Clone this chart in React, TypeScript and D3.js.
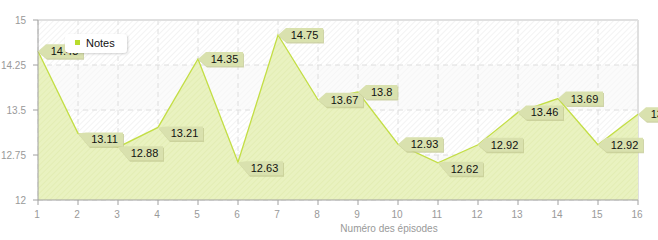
import React from "react";
import * as d3 from "d3";

const episodes = [1, 2, 3, 4, 5, 6, 7, 8, 9, 10, 11, 12, 13, 14, 15, 16];
const notes = [14.48, 13.11, 12.88, 13.21, 14.35, 12.63, 14.75, 13.67, 13.8, 12.93, 12.62, 12.92, 13.46, 13.69, 12.92, 13.43];
const yTicks = [12, 12.75, 13.5, 14.25, 15];
const yTickLabels = ["12", "12.75", "13.5", "14.25", "15"];
const lowLabels = new Set([1, 2, 3, 5, 10]);
const seriesName = "Notes";
const axisTitle = "Numéro des épisodes";

const W = 658, H = 240;
const M = { left: 38, right: 20, top: 20, bottom: 40 };

export default function App() {
  const x = d3.scaleLinear().domain([1, 16]).range([M.left, W - M.right]);
  const y = d3.scaleLinear().domain([12, 15]).range([H - M.bottom, M.top]);
  const pts: [number, number][] = episodes.map((e, i) => [e, notes[i]]);
  const area = d3.area<[number, number]>().x(d => x(d[0])).y0(y(12)).y1(d => y(d[1]));
  const line = d3.line<[number, number]>().x(d => x(d[0])).y(d => y(d[1]));
  const x0 = x(1), x1 = x(16), yTop = y(15), yBot = y(12);
  const font = "'Liberation Sans', Arial, sans-serif";
  const bands = [[12, 12.75], [13.5, 14.25]];

  return (
    <svg width={W} height={H} style={{ position: "absolute", left: 0, top: 0 }}>
      <defs>
        <pattern id="hatch" width="4" height="4" patternUnits="userSpaceOnUse" patternTransform="rotate(45)">
          <rect width="4" height="4" fill="#ffffff" />
          <line x1="0" y1="0" x2="0" y2="4" stroke="#ececec" strokeWidth="1.2" />
        </pattern>
        <pattern id="hatchLight" width="4" height="4" patternUnits="userSpaceOnUse" patternTransform="rotate(45)">
          <rect width="4" height="4" fill="#fbfbfb" />
          <line x1="0" y1="0" x2="0" y2="4" stroke="#f3f3f3" strokeWidth="1.2" />
        </pattern>
        <pattern id="hatchGreen" width="4" height="4" patternUnits="userSpaceOnUse" patternTransform="rotate(45)">
          <rect width="4" height="4" fill="#e9f2c0" />
          <line x1="0" y1="0" x2="0" y2="4" stroke="#e0ebac" strokeWidth="1.2" />
        </pattern>
        <filter id="shadow" x="-20%" y="-20%" width="150%" height="160%">
          <feDropShadow dx="1" dy="1" stdDeviation="1.2" floodColor="#000" floodOpacity="0.18" />
        </filter>
      </defs>
      <rect x={x0} y={yTop} width={x1 - x0} height={yBot - yTop} fill="url(#hatch)" />
      {bands.map((b, i) => (
        <rect key={i} x={x0} y={y(b[1])} width={x1 - x0} height={y(b[0]) - y(b[1])} fill="url(#hatchLight)" />
      ))}
      {episodes.map(e => (
        <line key={"vg" + e} x1={x(e)} x2={x(e)} y1={yTop} y2={yBot} stroke="#dedede" strokeDasharray="5,4" />
      ))}
      {yTicks.map(t => (
        <line key={"hg" + t} x1={x0} x2={x1} y1={y(t)} y2={y(t)} stroke="#dedede" strokeDasharray="5,4" />
      ))}
      <line x1={x0} x2={x1} y1={yTop} y2={yTop} stroke="#e0e0e0" strokeWidth={2} />
      <line x1={x1} x2={x1} y1={yTop} y2={yBot} stroke="#e0e0e0" strokeWidth={2} />
      <path d={area(pts) || ""} fill="url(#hatchGreen)" />
      <path d={line(pts) || ""} fill="none" stroke="#c3de45" strokeWidth={1.3} />
      <line x1={x0} x2={x0} y1={yTop} y2={yBot} stroke="#a0a0a0" />
      <line x1={x0} x2={x1} y1={yBot} y2={yBot} stroke="#a0a0a0" />
      {yTicks.map((t, i) => (
        <g key={"yt" + t}>
          <line x1={x0 - 5} x2={x0} y1={y(t)} y2={y(t)} stroke="#a0a0a0" />
          <text x={x0 - 12} y={y(t)} dy="0.35em" textAnchor="end" fontSize={10} fill="#999" fontFamily={font}>{yTickLabels[i]}</text>
        </g>
      ))}
      {episodes.map(e => (
        <g key={"xt" + e}>
          <line x1={x(e)} x2={x(e)} y1={yBot} y2={yBot + 5} stroke="#a0a0a0" />
          <text x={x(e) - 1} y={yBot + 14} dy="0.35em" textAnchor="middle" fontSize={10} fill="#999" fontFamily={font}>{e}</text>
        </g>
      ))}
      <text x={389} y={228} dy="0.35em" textAnchor="middle" fontSize={10} fill="#999" fontFamily={font}>{axisTitle}</text>
      {pts.map((p, i) => {
        const px = x(p[0]), py = y(p[1]);
        const label = String(p[1]);
        const w = label.length * 5.6 + 9;
        const h = 14;
        const bx = px + 8;
        const by = lowLabels.has(i) ? py - 1 : py - 7;
        const path = lowLabels.has(i)
          ? `M${px},${py} L${bx},${by} L${bx + w},${by} L${bx + w},${by + h} L${bx + 3},${by + h} Z`
          : `M${px},${py} L${bx},${by} L${bx + w},${by} L${bx + w},${by + h} L${bx},${by + h} Z`;
        return (
          <g key={"lb" + i}>
            <path d={path} fill="#c4cb94" transform="translate(1,1.5)" opacity={0.8} />
            <path d={path} fill="#d9e1ae" />
            <text x={bx + w / 2} y={by + h / 2} dy="0.36em" textAnchor="middle" fontSize={11} fill="#111" fontFamily={font}>{label}</text>
          </g>
        );
      })}
      <g filter="url(#shadow)">
        <rect x={65} y={34} width={62} height={19} rx={4} fill="#fff" />
      </g>
      <rect x={75} y={40} width={5} height={5} fill="#b8dc2c" />
      <text x={86} y={43} dy="0.35em" fontSize={11} fill="#111" fontFamily={font}>{seriesName}</text>
    </svg>
  );
}
